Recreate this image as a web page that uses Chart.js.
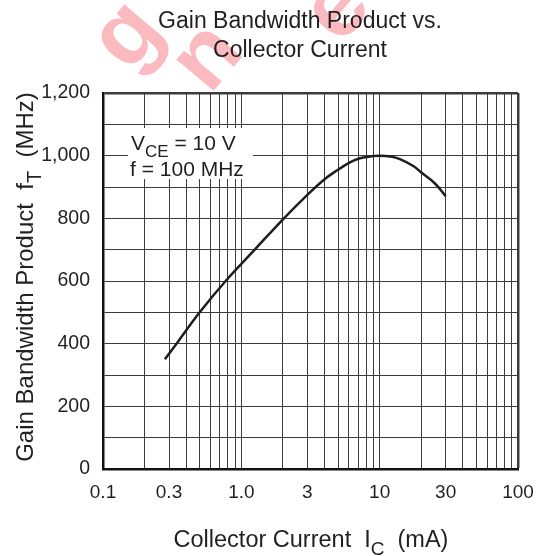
<!DOCTYPE html>
<html>
<head>
<meta charset="utf-8">
<script src="https://cdn.jsdelivr.net/npm/chart.js@4.4.1/dist/chart.umd.min.js"></script>
<style>
  html, body { margin: 0; padding: 0; background: #fff; }
  #wrap { width: 543px; height: 556px; }
</style>
</head>
<body>
<div id="wrap"><canvas id="gbwChart"></canvas></div>
<script>
// Curve (IC in mA, fT in MHz)
const currentMA = [0.28, 0.34, 0.5, 0.77, 1.25, 2, 3, 4, 5, 6, 7, 8, 10, 12, 14, 17.5, 20, 25, 30];
const ftMHz = [350, 400, 500, 600, 700, 797, 875, 925, 955, 977, 990, 996, 1000, 997, 989, 967, 946, 912, 871];

// Log grid lines and the labelled ones
const xGridValues = [0.1, 0.2, 0.3, 0.4, 0.5, 0.6, 0.7, 0.8, 0.9,
                     1, 2, 3, 4, 5, 6, 7, 8, 9,
                     10, 20, 30, 40, 50, 60, 70, 80, 90, 100];
const xTickValues = [0.1, 0.3, 1, 3, 10, 30, 100];
const xTickLabels = ['0.1', '0.3', '1.0', '3', '10', '30', '100'];
const yTickValues = [0, 200, 400, 600, 800, 1000, 1200];
const yTickLabels = ['0', '200', '400', '600', '800', '1,000', '1,200'];

const FONT = '"Liberation Sans", Arial, Helvetica, sans-serif';
const INK = '#231f20';

// draw a run of text pieces, some of them subscripts
function drawRich(ctx, parts, x, y, size, align) {
    const subSize = Math.round(size * 0.82);
    let total = 0;
    parts.forEach(p => {
        ctx.font = (p.sub ? subSize : size) + 'px ' + FONT;
        p.w = ctx.measureText(p.t).width;
        total += p.w;
    });
    let cx = align === 'center' ? x - total / 2 : x;
    parts.forEach(p => {
        ctx.font = (p.sub ? subSize : size) + 'px ' + FONT;
        ctx.fillText(p.t, cx, y + (p.sub ? size * 0.33 : 0));
        cx += p.w;
    });
}

const decorations = {
    id: 'decorations',
    beforeDraw(chart) {
        // faint red watermark of the source site
        const ctx = chart.ctx;
        ctx.save();
        ctx.fillStyle = 'rgba(240, 40, 55, 0.32)';
        ctx.font = 'bold 92px ' + FONT;
        ctx.textAlign = 'center';
        ctx.textBaseline = 'middle';
        [['g', 128, 36], ['n', 208, 58], ['e', 338, 10]].forEach(([ch, x, y]) => {
            ctx.save();
            ctx.translate(x, y);
            ctx.rotate(-50 * Math.PI / 180);
            ctx.fillText(ch, 0, 0);
            ctx.restore();
        });
        ctx.restore();
    },
    afterDatasetsDraw(chart) {
        const ctx = chart.ctx;
        const area = chart.chartArea;
        ctx.save();
        // condition box in the upper left of the plot
        ctx.fillStyle = '#fff';
        ctx.fillRect(area.left + 25, area.top + 35, 125, 51);
        ctx.fillStyle = INK;
        ctx.textBaseline = 'alphabetic';
        ctx.textAlign = 'left';
        drawRich(ctx, [{t: 'V'}, {t: 'CE', sub: true}, {t: ' = 10 V'}], area.left + 28, area.top + 57, 21);
        drawRich(ctx, [{t: 'f = 100 MHz'}], area.left + 27, area.top + 83, 21);
        ctx.restore();
    },
    afterDraw(chart) {
        const ctx = chart.ctx;
        ctx.save();
        ctx.fillStyle = INK;
        ctx.textBaseline = 'alphabetic';
        ctx.textAlign = 'left';
        drawRich(ctx, [{t: 'Gain Bandwidth Product vs.'}], 300, 28, 23, 'center');
        drawRich(ctx, [{t: 'Collector Current'}], 300, 57, 23, 'center');
        drawRich(ctx, [{t: 'Collector Current  I'}, {t: 'C', sub: true}, {t: '  (mA)'}], 311, 547, 23.5, 'center');
        ctx.translate(33, 277);
        ctx.rotate(-Math.PI / 2);
        drawRich(ctx, [{t: 'Gain Bandwidth Product  f'}, {t: 'T', sub: true}, {t: '  (MHz)'}], 0, 0, 24, 'center');
        ctx.restore();
    }
};

const ctx = document.getElementById('gbwChart').getContext('2d');
const gbwChart = new Chart(ctx, {
    type: 'line',
    data: {
        datasets: [
            {
                data: currentMA.map((x, i) => ({x: x, y: ftMHz[i]})),
                borderColor: '#1e1e1e',
                borderWidth: 2.5,
                pointRadius: 0,
                tension: 0.4,
                fill: false,
            },
        ],
    },
    options: {
        responsive: true,
        maintainAspectRatio: false,
        animation: false,
        devicePixelRatio: 1,
        layout: { padding: { left: 0, top: 93, right: 25, bottom: 0 } },
        plugins: {
            legend: { display: false },
            tooltip: { enabled: false },
        },
        scales: {
            x: {
                type: 'logarithmic',
                min: 0.1,
                max: 100,
                afterBuildTicks: (scale) => {
                    scale.ticks = xGridValues.map(v => ({ value: v }));
                },
                afterFit: (scale) => {
                    scale.height = 87;
                    scale.paddingLeft = 0;
                    scale.paddingRight = 0;
                },
                ticks: {
                    autoSkip: false,
                    maxRotation: 0,
                    padding: 12,
                    color: INK,
                    font: { family: FONT, size: 19 },
                    callback: (v) => {
                        const i = xTickValues.indexOf(v);
                        return i < 0 ? '' : xTickLabels[i];
                    },
                },
                grid: {
                    color: '#3c3c3c',
                    lineWidth: (c) => (c.tick && c.tick.value === 100 ? 2.5 : 1),
                    drawTicks: false,
                },
                border: { color: '#111', width: 2.5 },
            },
            y: {
                min: 0,
                max: 1200,
                afterFit: (scale) => { scale.width = 103; },
                ticks: {
                    stepSize: 100,
                    padding: 13,
                    color: INK,
                    font: { family: FONT, size: 19.5 },
                    callback: (v) => {
                        const i = yTickValues.indexOf(v);
                        return i < 0 ? '' : yTickLabels[i];
                    },
                },
                grid: {
                    color: '#3c3c3c',
                    lineWidth: (c) => (c.tick && c.tick.value === 1200 ? 2.5 : 1),
                    drawTicks: false,
                },
                border: { color: '#111', width: 2.5 },
            },
        },
    },
    plugins: [decorations],
});
</script>
</body>
</html>
